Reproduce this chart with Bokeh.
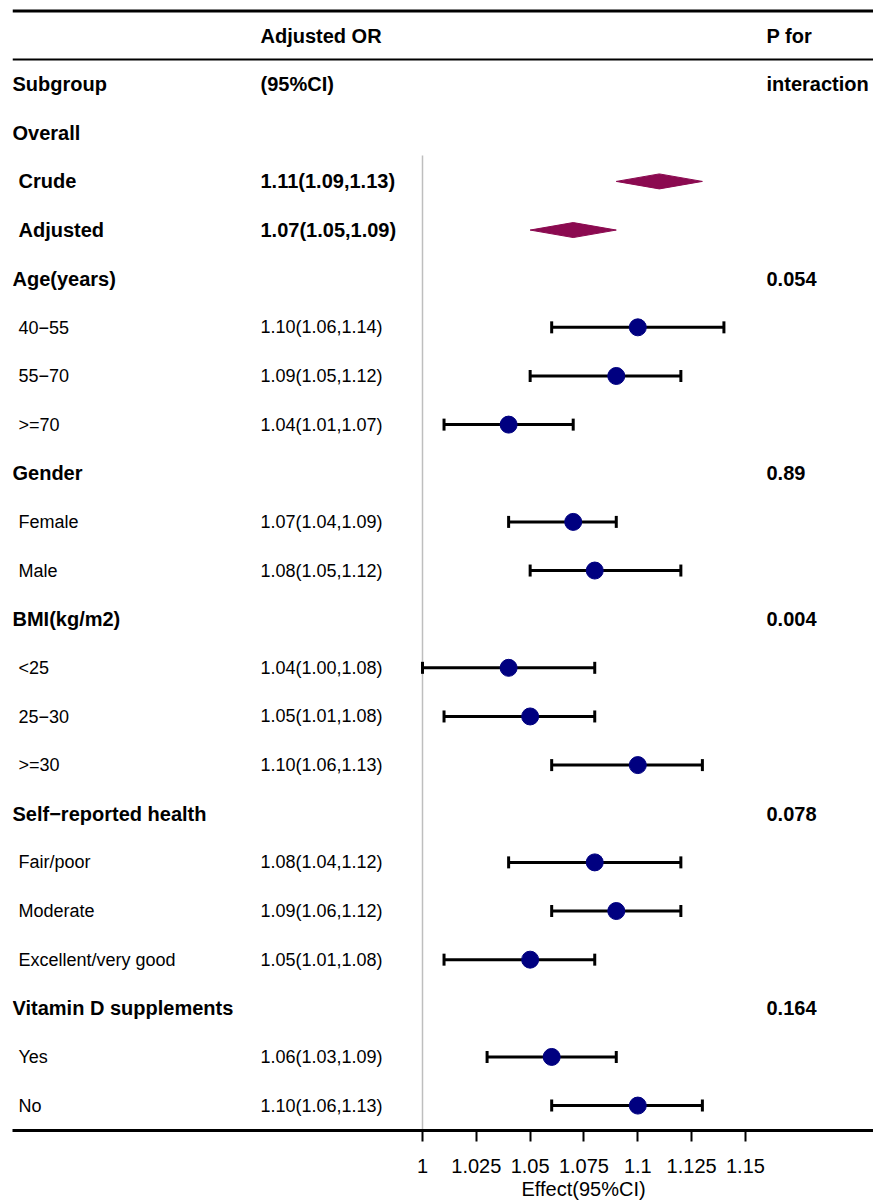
from bokeh.plotting import figure
from bokeh.models import (ColumnDataSource, Range1d, LinearAxis, FixedTicker,
                          Whisker, TeeHead, Span, Title)
from bokeh.core.properties import value
from bokeh.embed import file_html
from bokeh.resources import INLINE

# ---------------- data ----------------
labels = ["Overall", "Crude", "Adjusted", "Age(years)", "40\u221255", "55\u221270", ">=70",
          "Gender", "Female", "Male", "BMI(kg/m2)", "<25", "25\u221230", ">=30",
          "Self\u2212reported health", "Fair/poor", "Moderate", "Excellent/very good",
          "Vitamin D supplements", "Yes", "No"]
kind = ["group", "overall", "overall", "group", "sub", "sub", "sub",
        "group", "sub", "sub", "group", "sub", "sub", "sub",
        "group", "sub", "sub", "sub", "group", "sub", "sub"]
est = [None, 1.11, 1.07, None, 1.10, 1.09, 1.04, None, 1.07, 1.08, None, 1.04, 1.05, 1.10,
       None, 1.08, 1.09, 1.05, None, 1.06, 1.10]
lo = [None, 1.09, 1.05, None, 1.06, 1.05, 1.01, None, 1.04, 1.05, None, 1.00, 1.01, 1.06,
      None, 1.04, 1.06, 1.01, None, 1.03, 1.06]
hi = [None, 1.13, 1.09, None, 1.14, 1.12, 1.07, None, 1.09, 1.12, None, 1.08, 1.08, 1.13,
      None, 1.12, 1.12, 1.08, None, 1.09, 1.13]
or_text = ["", "1.11(1.09,1.13)", "1.07(1.05,1.09)", "", "1.10(1.06,1.14)", "1.09(1.05,1.12)",
           "1.04(1.01,1.07)", "", "1.07(1.04,1.09)", "1.08(1.05,1.12)", "", "1.04(1.00,1.08)",
           "1.05(1.01,1.08)", "1.10(1.06,1.13)", "", "1.08(1.04,1.12)", "1.09(1.06,1.12)",
           "1.05(1.01,1.08)", "", "1.06(1.03,1.09)", "1.10(1.06,1.13)"]
p_inter = ["", "", "", "0.054", "", "", "", "0.89", "", "", "0.004", "", "", "",
           "0.078", "", "", "", "0.164", "", ""]
x_ticks = [1, 1.025, 1.05, 1.075, 1.1, 1.125, 1.15]
x_title = "Effect(95%CI)"

# ---------------- layout helpers ----------------
ROW0 = 2            # first data row index (rows 0,1 are headers)
ROW_PX = 48.64      # pixel height of one row
Y0 = 35             # pixel centre of row 0
PX_PER_UNIT = 2153  # horizontal scale
FONT = "Liberation Sans"

W, H = 873, 1200
p = figure(width=W, height=H, output_backend="svg", toolbar_location=None,
           x_axis_type=None, y_axis_type=None,
           min_border_left=12, min_border_right=0, min_border_top=0, min_border_bottom=70,
           x_range=Range1d(1 - 410 / PX_PER_UNIT, 1 + 451 / PX_PER_UNIT),
           y_range=Range1d((1130 - Y0) / ROW_PX, (0 - Y0) / ROW_PX))
p.outline_line_color = None
p.grid.visible = False
p.background_fill_color = "white"
p.border_fill_color = "white"
p.extra_x_ranges = {"px": Range1d(12, 873)}

# table rules
p.add_layout(Span(location=(10.5 - Y0) / ROW_PX, dimension="width", line_color="black", line_width=3))
p.add_layout(Span(location=(59 - Y0) / ROW_PX, dimension="width", line_color="black", line_width=2))

# reference line at 1
p.segment(x0=[1], x1=[1], y0=[(155 - Y0) / ROW_PX], y1=[(1130 - Y0) / ROW_PX],
          line_color="#BEBEBE", line_width=1.5, level="underlay")

# ---------------- texts ----------------
tx, ty, tt, tstyle, tsize = [], [], [], [], []

def add(x, y, t, bold):
    tx.append(x); ty.append(y); tt.append(t)
    tstyle.append("bold" if bold else "normal")
    tsize.append("20px" if bold else "18px")

# headers
add(260, 0, "Adjusted OR", True)
add(766, 0, "P for", True)
add(12, 1, "Subgroup", True)
add(260, 1, "(95%CI)", True)
add(766, 1, "interaction", True)

for i, lab in enumerate(labels):
    r = ROW0 + i
    k = kind[i]
    bold = k in ("group", "overall")
    add(12 if k == "group" else 18, r, lab, bold)
    if or_text[i]:
        add(260, r, or_text[i], k == "overall")
    if p_inter[i]:
        add(766, r, p_inter[i], True)

tsrc = ColumnDataSource(dict(x=tx, y=ty, text=tt, style=tstyle, size=tsize))
p.text(x="x", y="y", text="text", source=tsrc, x_range_name="px",
       text_font=value(FONT), text_font_style="style", text_font_size="size",
       text_baseline="middle", text_align="left", text_color="black")

# ---------------- diamonds (overall) ----------------
half = 7.5 / ROW_PX
dxs, dys = [], []
for i in range(len(labels)):
    if kind[i] == "overall":
        r = ROW0 + i
        dxs.append([lo[i], est[i], hi[i], est[i]])
        dys.append([r, r - half, r, r + half])
p.patches(xs=dxs, ys=dys, fill_color="#8B0A50", line_color="#8B0A50", line_width=1)

# ---------------- subgroup points + CI ----------------
pe, pl, ph, py = [], [], [], []
for i in range(len(labels)):
    if kind[i] == "sub":
        pe.append(est[i]); pl.append(lo[i]); ph.append(hi[i]); py.append(ROW0 + i)
psrc = ColumnDataSource(dict(est=pe, lo=pl, hi=ph, y=py))
p.add_layout(Whisker(source=psrc, base="y", lower="lo", upper="hi", dimension="width",
                     line_color="black", line_width=3, level="underlay",
                     upper_head=TeeHead(size=12, line_width=3, line_color="black"),
                     lower_head=TeeHead(size=12, line_width=3, line_color="black")))
p.scatter(x="est", y="y", source=psrc, size=17, marker="circle",
          fill_color="#000080", line_color="#000080")

# ---------------- x axis ----------------
ax = LinearAxis(ticker=FixedTicker(ticks=x_ticks))
ax.axis_line_width = 3
ax.axis_line_color = "black"
ax.major_tick_in = 0
ax.major_tick_out = 11
ax.major_tick_line_width = 2
ax.minor_tick_line_color = None
ax.major_label_standoff = 17
ax.major_label_text_font = FONT
ax.major_label_text_font_size = "20px"
ax.major_label_text_color = "black"
p.add_layout(ax, "below")

# axis title, placed over the tick span (left-aligned offset from the frame's left edge)
title_left_px = 521
p.add_layout(Title(text=x_title, align="left", offset=title_left_px - 12,
                   text_font=FONT, text_font_size="20px", text_font_style="normal",
                   text_color="black", standoff=0), "below")

open("out.html", "w").write(file_html(p, INLINE))
